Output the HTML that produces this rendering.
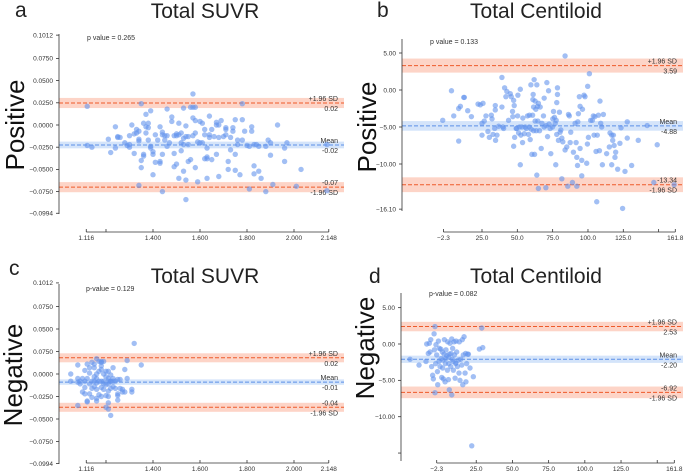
<!DOCTYPE html>
<html><head><meta charset="utf-8"><style>
html,body{margin:0;padding:0;background:#fff;}
svg{display:block;font-family:"Liberation Sans",sans-serif;}
.tick{font-size:6.5px;fill:#333;}
.big{font-size:21px;fill:#222;}
.row{font-size:26px;fill:#111;}
.lab{font-size:7px;fill:#333;}
</style></head><body>
<svg id="chart" width="685" height="474" viewBox="0 0 685 474" xmlns="http://www.w3.org/2000/svg"></svg>
<script>
// ---------- Panel a: Positive, Total SUVR ----------
const aPoints=[[1.12,0.021],[1.12,-0.023],[1.14,-0.025],[1.21,-0.016],[1.22,-0.031],[1.24,-0.002],[1.24,-0.026],[1.25,-0.013],[1.25,-0.014],[1.26,-0.014],[1.28,-0.020],[1.29,-0.023],[1.30,-0.025],[1.30,-0.012],[1.30,-0.022],[1.31,0.000],[1.32,-0.010],[1.32,-0.032],[1.33,-0.005],[1.33,-0.009],[1.34,-0.016],[1.34,-0.007],[1.34,-0.018],[1.35,-0.040],[1.35,-0.048],[1.34,-0.068],[1.35,0.024],[1.36,0.002],[1.36,-0.033],[1.36,-0.035],[1.37,-0.009],[1.37,-0.002],[1.37,0.012],[1.38,-0.017],[1.38,0.002],[1.38,-0.003],[1.39,-0.024],[1.39,-0.026],[1.39,0.016],[1.40,-0.030],[1.40,-0.033],[1.40,-0.056],[1.41,-0.042],[1.41,-0.011],[1.42,-0.017],[1.43,-0.002],[1.43,-0.043],[1.43,-0.041],[1.44,-0.008],[1.44,-0.011],[1.44,-0.033],[1.44,-0.075],[1.45,-0.012],[1.45,-0.017],[1.46,0.018],[1.46,-0.024],[1.46,-0.012],[1.47,-0.020],[1.48,0.009],[1.48,0.004],[1.49,-0.012],[1.49,-0.032],[1.49,-0.047],[1.50,-0.012],[1.50,-0.010],[1.50,-0.044],[1.51,-0.060],[1.51,-0.011],[1.51,0.002],[1.52,-0.020],[1.52,-0.029],[1.52,-0.009],[1.53,0.019],[1.53,-0.015],[1.53,-0.022],[1.53,-0.052],[1.54,-0.062],[1.54,-0.013],[1.54,-0.001],[1.54,-0.084],[1.55,-0.022],[1.55,-0.013],[1.55,-0.041],[1.56,0.020],[1.56,-0.039],[1.57,0.008],[1.57,-0.012],[1.57,0.020],[1.57,0.035],[1.58,0.020],[1.58,-0.009],[1.58,-0.048],[1.58,0.005],[1.59,-0.019],[1.59,-0.064],[1.60,0.004],[1.60,-0.020],[1.61,0.002],[1.61,-0.020],[1.62,-0.011],[1.62,-0.038],[1.62,-0.005],[1.63,-0.038],[1.63,-0.026],[1.63,-0.036],[1.63,-0.060],[1.64,0.010],[1.64,-0.011],[1.64,-0.014],[1.65,-0.039],[1.65,-0.005],[1.66,-0.013],[1.67,0.000],[1.67,0.003],[1.67,-0.033],[1.68,-0.058],[1.68,-0.014],[1.68,0.000],[1.69,0.005],[1.70,-0.013],[1.71,-0.011],[1.71,-0.003],[1.71,-0.005],[1.72,-0.041],[1.72,-0.050],[1.73,-0.028],[1.73,-0.014],[1.74,-0.007],[1.74,-0.003],[1.75,-0.033],[1.75,-0.051],[1.75,0.006],[1.76,-0.022],[1.76,-0.017],[1.77,-0.056],[1.78,0.006],[1.78,0.024],[1.78,-0.017],[1.79,-0.007],[1.80,-0.023],[1.81,-0.072],[1.81,-0.024],[1.82,-0.007],[1.82,-0.002],[1.83,-0.046],[1.83,-0.022],[1.83,-0.055],[1.84,-0.022],[1.85,-0.024],[1.85,-0.052],[1.86,-0.060],[1.88,-0.075],[1.88,-0.024],[1.89,-0.017],[1.90,-0.034],[1.90,-0.020],[1.91,-0.067],[1.93,0.000],[1.96,-0.026],[1.96,-0.041],[1.97,-0.020],[2.03,-0.050],[2.01,-0.069],[2.14,-0.022],[2.14,-0.074]];
const aLimits=[0.0248,-0.0225,-0.0700];
const aBands=[0.0057,0.0038,0.0057];
const aLimitText=[["+1.96 SD","0.02"],["Mean","-0.02"],["-0.07","-1.96 SD"]];
const aYTicks=[0.1012,0.075,0.05,0.025,0,-0.025,-0.05,-0.075,-0.0994];
const aYTickLabels=["0.1012","0.0750","0.0500","0.0250","0.0000","\u22120.0250","\u22120.0500","\u22120.0750","\u22120.0994"];
const aXTicks=[1.116,1.2,1.4,1.6,1.8,2.0,2.148];
const aXTickLabels=["1.116","","1.400","1.600","1.800","2.000","2.148"];

// ---------- Panel b: Positive, Total Centiloid ----------
const bPoints=[[-2.8,-4.1],[3.4,-0.1],[5.0,-3.5],[8.5,-2.5],[8.5,-6.9],[9.7,-2.2],[12.1,-1.0],[12.5,-1.0],[14.9,-2.8],[17.5,-3.6],[22.2,-1.9],[23.8,-2.0],[25.0,-6.1],[25.7,-1.8],[25.0,-4.5],[26.6,-4.2],[27.8,-3.5],[29.2,-5.6],[30.2,-6.4],[31.6,-3.4],[32.1,-3.9],[32.8,-6.0],[34.0,-5.2],[34.4,-2.1],[34.4,-2.7],[34.6,-6.8],[35.6,-6.1],[36.8,-4.9],[39.1,-2.3],[39.1,1.7],[39.8,-5.0],[40.3,-5.2],[41.0,0.3],[41.9,-0.9],[42.6,-0.2],[43.8,-4.1],[45.0,-0.5],[45.7,-0.9],[46.6,-2.9],[46.8,-3.6],[47.4,-1.4],[47.4,-7.6],[47.8,-2.1],[48.1,-6.4],[49.5,-5.2],[49.2,-5.2],[50.2,-3.5],[50.4,-0.7],[50.9,-5.8],[51.6,-5.0],[52.1,0.1],[52.1,-10.1],[52.5,-6.1],[53.2,-5.0],[53.7,-7.1],[53.9,-3.8],[54.9,-5.9],[55.6,-5.0],[56.3,-5.2],[57.2,-3.5],[57.9,-6.0],[58.4,-5.0],[58.6,-3.4],[59.1,-6.7],[59.6,0.7],[59.8,-5.3],[60.3,-8.7],[60.8,-3.4],[61.0,-1.3],[61.2,-0.6],[61.5,-2.3],[61.5,-5.5],[61.9,1.4],[62.2,-8.7],[62.6,-1.5],[62.6,-4.2],[63.1,-2.6],[63.4,-5.5],[63.8,-11.5],[63.8,0.7],[64.3,-2.2],[64.5,-4.2],[64.9,-1.8],[64.9,-13.3],[65.7,-5.5],[66.2,-2.3],[66.9,-7.9],[67.4,-4.5],[68.5,-3.5],[69.0,-1.1],[69.0,-5.0],[70.2,-13.2],[70.4,-4.8],[70.9,1.0],[71.4,-6.3],[72.1,-0.1],[72.5,-4.6],[73.2,-5.2],[73.7,-8.6],[74.9,-5.0],[75.1,-3.9],[75.6,-2.9],[76.3,-3.7],[76.8,-4.5],[77.2,-10.1],[77.5,-4.1],[77.9,-1.7],[77.9,-6.0],[78.4,0.3],[78.4,-0.6],[79.1,-6.8],[79.8,-3.0],[80.3,-5.7],[80.8,-5.4],[81.5,-12.0],[81.5,-6.5],[82.2,-7.0],[83.8,4.6],[83.8,-8.1],[85.0,-7.7],[85.7,-13.0],[86.2,-3.3],[86.8,-3.5],[87.4,-7.1],[87.8,-5.7],[89.0,-12.5],[89.7,-8.4],[90.9,-4.5],[91.6,-7.1],[92.1,-13.0],[92.1,-9.1],[92.6,-10.2],[92.8,-4.3],[93.2,-3.2],[93.9,-0.9],[94.4,-2.2],[94.4,-7.9],[95.6,-9.5],[95.6,-11.6],[96.1,-2.6],[97.2,-0.7],[97.9,-0.9],[99.1,-9.9],[99.6,-7.3],[99.8,0.5],[100.3,-6.4],[101.0,2.2],[101.9,-4.1],[103.1,-4.1],[103.8,-3.5],[104.3,-6.1],[104.9,-3.6],[105.7,-8.3],[106.2,-15.1],[106.6,-6.1],[107.4,-3.4],[108.1,-8.2],[108.5,-1.5],[109.0,-4.5],[109.7,-5.0],[110.2,-10.1],[110.9,-3.3],[113.2,-8.6],[115.1,-7.7],[115.6,-5.8],[116.8,-6.1],[116.8,-10.1],[117.5,-6.8],[118.0,-6.1],[118.5,-7.5],[119.1,-9.1],[119.6,-8.4],[121.0,-10.7],[122.6,-7.2],[123.4,-5.1],[124.5,-16.0],[126.2,-11.0],[127.8,-6.5],[127.8,-4.3],[130.9,-10.2],[135.6,-6.8],[141.9,-4.8],[146.6,-12.5],[149.0,-7.4],[161.0,-12.8]];
const bLimits=[3.3,-4.85,-12.8];
const bBands=[0.95,0.65,1.0];
const bLimitText=[["+1.96 SD","3.59"],["Mean","-4.88"],["-13.34","-1.96 SD"]];
const bYTicks=[5,0,-5,-10,-16.1];
const bYTickLabels=["5.00","0.00","\u22125.00","\u221210.00","\u221216.10"];
const bXTicks=[-2.3,25,50,75,100,125,150,161.8];
const bXTickLabels=["\u22122.3","25.0","50.0","75.0","100.0","125.0","","161.8"];

// ---------- Panel c: Negative, Total SUVR ----------
const cPoints=[[1.05,0.000],[1.05,-0.008],[1.08,0.010],[1.08,-0.005],[1.08,-0.009],[1.08,-0.035],[1.09,-0.008],[1.09,-0.011],[1.10,-0.005],[1.10,-0.020],[1.11,-0.008],[1.11,-0.022],[1.11,0.004],[1.11,-0.015],[1.12,-0.030],[1.12,0.011],[1.12,-0.005],[1.12,-0.031],[1.13,-0.011],[1.13,-0.022],[1.13,0.001],[1.13,0.007],[1.14,0.013],[1.14,-0.016],[1.14,-0.008],[1.14,-0.026],[1.15,-0.003],[1.15,0.011],[1.15,-0.008],[1.15,0.007],[1.15,-0.014],[1.16,0.017],[1.16,-0.017],[1.16,-0.005],[1.16,-0.030],[1.16,0.000],[1.16,-0.010],[1.16,-0.027],[1.17,0.014],[1.17,0.003],[1.17,-0.008],[1.17,-0.023],[1.18,0.009],[1.18,-0.015],[1.18,0.013],[1.18,-0.008],[1.18,0.005],[1.18,-0.025],[1.18,0.014],[1.19,-0.011],[1.19,0.000],[1.19,-0.017],[1.19,0.014],[1.19,-0.008],[1.20,-0.024],[1.20,0.003],[1.20,-0.012],[1.20,-0.037],[1.20,-0.003],[1.21,-0.008],[1.21,-0.019],[1.21,-0.039],[1.21,-0.011],[1.21,0.003],[1.21,-0.032],[1.21,-0.005],[1.21,-0.025],[1.22,-0.046],[1.22,-0.008],[1.22,-0.016],[1.22,-0.001],[1.22,-0.008],[1.23,0.007],[1.23,-0.014],[1.23,-0.005],[1.23,-0.008],[1.24,-0.016],[1.24,-0.008],[1.25,-0.006],[1.25,-0.024],[1.25,-0.029],[1.25,-0.022],[1.26,-0.016],[1.26,-0.006],[1.27,-0.017],[1.27,-0.020],[1.28,-0.020],[1.28,0.005],[1.29,-0.005],[1.29,0.015],[1.31,-0.017],[1.31,-0.020],[1.32,0.034],[1.35,0.010]];
const cLimits=[0.018,-0.009,-0.037];
const cBands=[0.005,0.003,0.005];
const cLimitText=[["+1.96 SD","0.02"],["Mean","-0.01"],["-0.04","-1.96 SD"]];
const cYTicks=[0.1012,0.075,0.05,0.025,0,-0.025,-0.05,-0.075,-0.0994];
const cYTickLabels=["0.1012","0.0750","0.0500","0.0750","0.0000","\u22120.0250","\u22120.0500","\u22120.0750","\u22120.0994"];
const cXTicks=[1.116,1.2,1.4,1.6,1.8,2.0,2.148];
const cXTickLabels=["1.116","","1.400","1.600","1.800","2.000","2.148"];

// ---------- Panel d: Negative, Total Centiloid ----------
const dPoints=[[-20.7,-2.1],[-14.5,-2.9],[-9.7,-2.4],[-9.2,0],[-8.1,-1.3],[-7.4,0.1],[-6.9,-1.1],[-6.4,0.6],[-5.8,-3.1],[-5.1,-4.3],[-4.6,-4.8],[-4.1,1.4],[-3.9,-0.8],[-3.5,2.4],[-3.5,-6.7],[-3.0,-2.7],[-2.8,-0.1],[-2.3,-1.5],[-1.8,-3.8],[-1.6,-5.6],[-1.1,0.4],[-0.7,-2.4],[-0.5,-0.6],[0.0,-3.1],[0.5,-0.7],[0.7,-2.0],[1.2,-4.6],[1.6,-1.1],[1.8,-3.3],[2.3,-4.8],[2.8,-1.4],[3.0,0.6],[3.5,-5.2],[3.7,-2.7],[4.1,-0.8],[4.6,-1.6],[5.1,-3.6],[5.3,0.3],[5.8,-4.9],[6.0,-2.7],[6.4,-1.4],[6.4,-6.3],[6.9,0.1],[7.4,-3.1],[7.6,-1.3],[8.1,0.7],[8.1,-7.0],[8.5,-2.1],[8.7,-0.6],[9.2,-3.6],[9.7,0.3],[9.9,-1.5],[10.4,-4.7],[10.8,-2.7],[11.1,0.4],[11.5,-1.1],[12.0,-3.1],[12.7,-2.2],[13.1,-4.0],[13.3,0.3],[13.8,-5.0],[14.3,-2.1],[15.0,-2.9],[15.4,0.6],[15.7,-5.6],[16.1,-1.5],[16.6,1.0],[17.3,-4.0],[17.7,-1.3],[17.9,-5.2],[18.4,-2.7],[19.1,-1.4],[19.6,-1.4],[20.7,-3.3],[21.9,-14.0],[23.0,-4.5],[27.2,-0.7],[28.8,2.2],[29.5,-0.5],[4.0,-2.0],[6.0,-1.8],[9.0,-2.4],[11.0,-2.6],[2.0,-2.2]];
const dLimits=[2.4,-2.1,-6.65];
const dBands=[0.65,0.5,0.8];
const dLimitText=[["+1.96 SD","2.53"],["Mean","-2.20"],["-6.92","-1.96 SD"]];
const dYTicks=[5,0,-5,-10,-15];
const dYTickLabels=["5.00","0.00","\u22125.00","\u221210.00",""];
const dXTicks=[-2.3,25,50,75,100,125,150,161.8];
const dXTickLabels=["\u22122.3","25.0","50.0","75.0","100.0","125.0","","161.8"];

const NS="http://www.w3.org/2000/svg";
const svg=document.getElementById('chart');
function mk(tag,attrs,parent,text){const e=document.createElementNS(NS,tag);for(const k in attrs)e.setAttribute(k,attrs[k]);if(text!==undefined)e.textContent=text;(parent||svg).appendChild(e);return e;}

function panel(cfg){
  const g=mk('g',{});
  
  
  const X=v=>cfg.x0px+(v-cfg.x0)*cfg.xs;
  const Y=v=>cfg.y0px-v*cfg.ys;
  // bands & lines
  const colors=['#ee5a2a','#5b8fe8','#ee5a2a'];
  const bandCol=['rgba(250,160,130,0.45)','rgba(160,195,245,0.45)','rgba(250,160,130,0.45)'];
  const names=['upper-loa','mean-diff','lower-loa'];
  cfg.limits.forEach((v,i)=>{
    const b=cfg.bands[i];
    const r=mk('rect',{x:cfg.left,y:Y(v+b),width:cfg.right-cfg.left,height:Y(v-b)-Y(v+b),fill:bandCol[i]},g);
    
    
    const l=mk('line',{x1:cfg.left,x2:cfg.right,y1:Y(v),y2:Y(v),stroke:colors[i],'stroke-width':1,'stroke-dasharray':'4,2'},g);
    
    
    const t1=mk('text',{x:cfg.right-6,y:Y(v)-2,'text-anchor':'end',class:'lab'},g,cfg.ltext[i][0]);
    
    
    const t2=mk('text',{x:cfg.right-6,y:Y(v)+8,'text-anchor':'end',class:'lab'},g,cfg.ltext[i][1]);
    
    
  });
  // points
  cfg.points.forEach(p=>{
    const c=mk('circle',{cx:X(p[0]),cy:Y(p[1]),r:2.7,fill:'rgb(100,149,237)','fill-opacity':0.6},g);
    
    
  });
  // y axis
  const ya=mk('line',{x1:cfg.left,x2:cfg.left,y1:cfg.yTop,y2:cfg.yBot,stroke:'#333','stroke-width':0.8},g);
  
  
  cfg.yt.forEach((v,i)=>{
    mk('line',{x1:cfg.left-3,x2:cfg.left,y1:Y(v),y2:Y(v),stroke:'#333','stroke-width':0.8},g);
    const t=mk('text',{x:cfg.left-6,y:Y(v)+2.3,'text-anchor':'end',class:'tick'},g,cfg.ytl[i]);
    
    
  });
  // x axis
  const xa=mk('line',{x1:X(cfg.xt[0]),x2:X(cfg.xt[cfg.xt.length-1]),y1:cfg.xAxisY,y2:cfg.xAxisY,stroke:'#333','stroke-width':0.8},g);
  
  
  cfg.xt.forEach((v,i)=>{
    mk('line',{x1:X(v),x2:X(v),y1:cfg.xAxisY-3,y2:cfg.xAxisY,stroke:'#333','stroke-width':0.8},g);
    const t=mk('text',{x:X(v),y:cfg.xAxisY+8,'text-anchor':'middle',class:'tick'},g,cfg.xtl[i]);
    
    
  });
  const pv=mk('text',{x:cfg.pvx,y:cfg.pvy,class:'lab'},g,cfg.ptext);
  
  
  const ti=mk('text',{x:cfg.tx,y:cfg.ty,'text-anchor':'middle',class:'big'},g,cfg.title);
  
  
  const le=mk('text',{x:cfg.lx,y:cfg.ly,class:'big'},g,cfg.letter);
  
  
  const rw=mk('text',{x:0,y:0,'text-anchor':'middle',class:'row',transform:`translate(${cfg.rx},${cfg.ry}) rotate(-90)`},g,cfg.row);
  
  
}

panel({name:'panel-a',points:aPoints,limits:aLimits,bands:aBands,ltext:aLimitText,yt:aYTicks,ytl:aYTickLabels,xt:aXTicks,xtl:aXTickLabels,
  x0:1.4,x0px:153,xs:235,y0px:125,ys:888,left:59,right:344,yTop:34,yBot:214,xAxisY:232,
  pvx:87,pvy:40,ptext:'p value = 0.265',title:'Total SUVR',tx:205,ty:18,letter:'a',lx:15,ly:17,row:'Positive',rx:24,ry:125});
panel({name:'panel-b',points:bPoints,limits:bLimits,bands:bBands,ltext:bLimitText,yt:bYTicks,ytl:bYTickLabels,xt:bXTicks,xtl:bXTickLabels,
  x0:25,x0px:482,xs:1.413,y0px:90,ys:7.4,left:402,right:683,yTop:39,yBot:211,xAxisY:232,
  pvx:430,pvy:44,ptext:'p value = 0.133',title:'Total Centiloid',tx:536,ty:18,letter:'b',lx:377,ly:17,row:'Positive',rx:376,ry:127});
panel({name:'panel-c',points:cPoints,limits:cLimits,bands:cBands,ltext:cLimitText,yt:cYTicks,ytl:cYTickLabels,xt:cXTicks,xtl:cXTickLabels,
  x0:1.4,x0px:153,xs:235,y0px:374,ys:900,left:59,right:344,yTop:284,yBot:464,xAxisY:463,
  pvx:86,pvy:291,ptext:'p-value = 0.129',title:'Total SUVR',tx:205,ty:283,letter:'c',lx:9,ly:275,row:'Negative',rx:22,ry:375});
panel({name:'panel-d',points:dPoints,limits:dLimits,bands:dBands,ltext:dLimitText,yt:dYTicks,ytl:dYTickLabels,xt:dXTicks,xtl:dXTickLabels,
  x0:-2.3,x0px:436.7,xs:1.448,y0px:344,ys:7.27,left:401,right:683,yTop:293,yBot:461,xAxisY:463,
  pvx:429,pvy:296,ptext:'p-value = 0.082',title:'Total Centiloid',tx:536,ty:283,letter:'d',lx:369,ly:283,row:'Negative',rx:374,ry:348});
</script>
</body></html>
